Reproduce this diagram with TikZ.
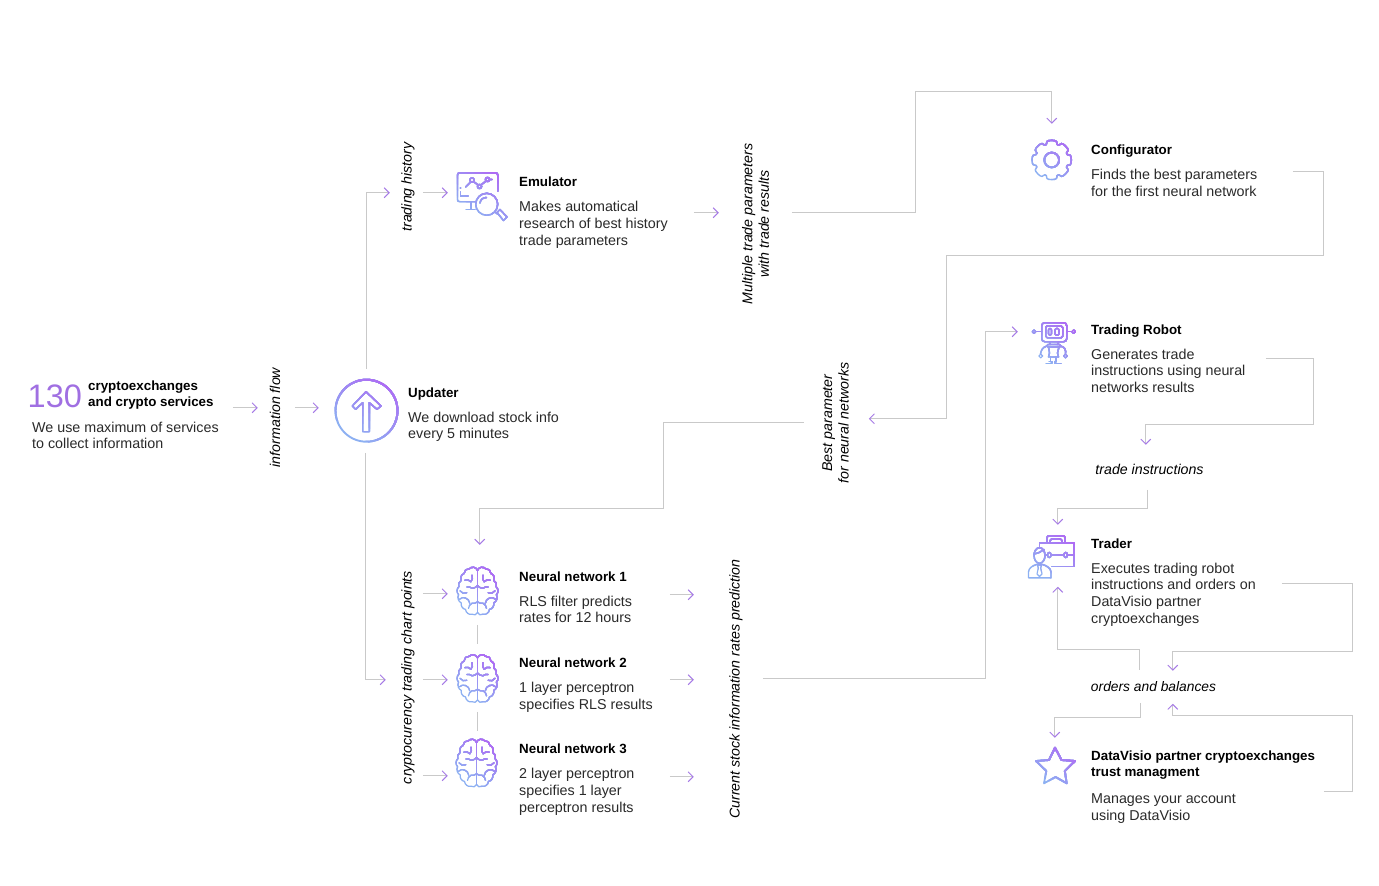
\documentclass[tikz,border=0pt]{standalone}
\usepackage{fontspec}
\setmainfont{Liberation Sans}
\usetikzlibrary{arrows.meta}
\definecolor{iconpurple}{HTML}{B06AF4}
\definecolor{iconblue}{HTML}{8DB0F2}
\definecolor{linegrey}{HTML}{C9C9C9}
\definecolor{tippurple}{HTML}{A67BE6}
\definecolor{bigpurple}{HTML}{A06FE2}
\definecolor{inktext}{HTML}{2A2A2A}
% stepped diagonal gradient: the icon is painted in layers, each clipped to a half-plane
\newcommand{\gradicon}[4]{%
  \foreach \layer in {0,...,10}{%
   \begin{scope}[line width=1.4pt,line join=round,line cap=round]
    \pgfmathsetmacro{\mixv}{\layer*10}%
    \pgfmathsetmacro{\edgev}{\layer==0 ? -300 : -#3+2*#3*\layer/10}%
    \colorlet{iconc}{iconpurple!\mixv!iconblue}%
    \clip[shift={(#1,#2)},rotate=55] (\edgev,-300) rectangle (300,300);
    #4
   \end{scope}}}
\newcommand{\brainicon}[2]{%
 \gradicon{#1}{#2}{21}{\begin{scope}[shift={(#1,#2)},xscale=.3,yscale=.325,line width=1.25pt]
  \draw[iconc] (0,-65)--(0,65);
  \foreach \s in {1,-1}{\begin{scope}[xscale=\s]
   \draw[iconc] (0,-65) to[bend right=60] (-27,-70) to[bend right=50] (-45,-55) to[bend right=50] (-55,-33) to[bend right=50] (-62,-15) to[bend right=50] (-63,10) to[bend right=50] (-54,35) to[bend right=50] (-40,55) to[bend right=50] (-18,70) to[bend right=50] (0,65);
   \draw[iconc] (-42,-35) to[bend left=30] (-22,-30) to[bend right=30] (-18,-50);
   \draw[iconc] (0,-18) to[bend left=20] (-18,-10) to[bend right=20] (-35,-14);
   \draw[iconc] (-58,-2) to[bend right=40] (-36,4);
   \draw[iconc] (-60,24) to[bend left=30] (-40,20) to[bend left=30] (-26,36);
   \draw[iconc] (-30,52) to[bend left=30] (-18,36) to[bend right=20] (0,32);
  \end{scope}}
 \end{scope}}}
\tikzset{
 conn/.style={draw=linegrey,line width=1.3pt,line join=miter,-{Straight Barb[length=5pt,width=10pt,color=tippurple,line width=.9pt]}},
 plainconn/.style={draw=linegrey,line width=1.3pt},
 title/.style={anchor=north west,inner sep=0pt,text=black,align=left,font=\fontsize{13.35}{16.4}\selectfont\bfseries,execute at begin node=\strut},
 body/.style={anchor=north west,yshift=-.4pt,inner sep=0pt,text=inktext,align=left,font=\fontsize{14.3}{16.6}\selectfont,execute at begin node=\strut},
 flowlabel/.style={inner sep=0pt,text=black,align=center,font=\fontsize{14.2}{16.6}\selectfont\itshape},
 iconbox/.style={inner sep=0pt,minimum size=#1}
}
\begin{document}
\begin{tikzpicture}[x=1pt,y=-1pt]
\fill[white] (0,0) rectangle (1379,886);
\useasboundingbox (0,0) rectangle (1379,886);
% icon anchors
\node[iconbox=62pt,circle] (updicon) at (366.5,411) {};
\node[iconbox=50pt] (emuicon) at (481,195) {};
\node[iconbox=40pt] (gearicon) at (1052,160) {};
\node[iconbox=40pt] (roboticon) at (1053,342) {};
\node[iconbox=46pt] (tradericon) at (1052,558) {};
\node[iconbox=42pt] (starricon) at (1055,766) {};
\node[iconbox=44pt] (brainA) at (477.5,591.5) {};
\node[iconbox=44pt] (brainB) at (477.5,679) {};
\node[iconbox=44pt] (brainC) at (476.5,763.5) {};
% texts
\node[anchor=base west,inner sep=0pt,text=bigpurple,font=\fontsize{32.5}{36}\selectfont] (big) at (27.5,407.3) {130};
\node[title] (srcT) at (88,380.5) {cryptoexchanges\\and crypto services};
\node[body] (srcB) at (32,421.4) {We use maximum of services\\to collect information};
\node[title] (updT) at (408,386) {Updater};
\node[body] (updB) at (408,411.4) {We download stock info\\every 5 minutes};
\node[title] (emuT) at (519,175) {Emulator};
\node[body] (emuB) at (519,200.9) {Makes automatical\\research of best history\\trade parameters};
\node[title] (cfgT) at (1091,142.8) {Configurator};
\node[body] (cfgB) at (1091,168.9) {Finds the best parameters\\for the first neural network};
\node[title] (robT) at (1091,323) {Trading Robot};
\node[body] (robB) at (1091,348.4) {Generates trade\\instructions using neural\\networks results};
\node[title] (trdT) at (1091,537) {Trader};
\node[body] (trdB) at (1091,562.4) {Executes trading robot\\instructions and orders on\\DataVisio partner\\cryptoexchanges};
\node[title] (nnAT) at (519,570) {Neural network 1};
\node[body] (nnAB) at (519,595.4) {RLS filter predicts\\rates for 12 hours};
\node[title] (nnBT) at (519,656) {Neural network 2};
\node[body] (nnBB) at (519,681.9) {1 layer perceptron\\specifies RLS results};
\node[title] (nnCT) at (519,742) {Neural network 3};
\node[body] (nnCB) at (519,767.9) {2 layer perceptron\\specifies 1 layer\\perceptron results};
\node[title] (dvT) at (1091,750.6) {DataVisio partner cryptoexchanges\\trust managment};
\node[body] (dvB) at (1091,793.4) {Manages your account\\using DataVisio};
\node[flowlabel,rotate=90] (lInfo) at (275,417.5) {information flow};
\node[flowlabel,rotate=90] (lHist) at (408,187) {trading history};
\node[flowlabel,rotate=90] (lPts) at (408,677.5) {cryptocurency trading chart points};
\node[flowlabel,rotate=90] (lMulti) at (755.5,224) {Multiple trade parameters\\with trade results};
\node[flowlabel,rotate=90] (lBest) at (835.5,423) {Best parameter\\for neural networks};
\node[flowlabel,rotate=90] (lPred) at (736,689) {Current stock information rates prediction};
\node[flowlabel] (lInstr) at (1149.5,469) {trade instructions};
\node[flowlabel,font=\fontsize{13.8}{16.6}\selectfont\itshape] (lOrders) at (1153.5,686.5) {orders and balances};
\begin{scope}[shift={(-.25,-.25)}]
% free ends of connectors
\foreach \n/\p in {a1/{233,408},a2/{258,408},b1/{295,408},b2/{319,408},c2/{390,193},d2/{386,680},
 e1/{423,193},e2/{448,193},f1/{694,213},f2/{719,213},g1/{792,213},g2/{1052,124},h1/{1293,172},h2/{869,419},
 i1/{804,423},i2/{480,545},j1/{763,679},j2/{1018,332},k1/{1266,359},k2/{1146,445},l1/{1148,490},l2/{1058,525},
 m1/{1282,584},m2/{1173,671},n1/{1140,670},n2/{1058,587},o1/{1141,703},o2/{1055,738},p1/{1324,792},p2/{1173,704},
 q1/{423,594},q2/{448,594},r1/{423,680},r2/{448,680},s1/{423,776},s2/{448,776},
 t1/{670,595},t2/{694,595},u1/{670,680},u2/{694,680},v1/{670,777},v2/{694,777},
 w1/{478,625},w2/{478,644},x1/{478,712},x2/{478,731},c1/{367,369},d1/{366,453}}
 {\coordinate (\n) at (\p);}
% connectors
\draw[conn] (a1)--(a2);
\draw[conn] (b1)--(b2);
\draw[conn] (c1) |- (c2);
\draw[conn] (d1) |- (d2);
\draw[conn] (e1)--(e2);
\draw[conn] (f1)--(f2);
\draw[conn] (g1)--(916,213)--(916,92)--(1052,92)--(g2);
\draw[conn] (h1)--(1324,172)--(1324,256)--(947,256)--(947,419)--(h2);
\draw[conn] (i1)--(664,423)--(664,509)--(480,509)--(i2);
\draw[conn] (j1)--(986,679)--(986,332)--(j2);
\draw[conn] (k1)--(1314,359)--(1314,425)--(1146,425)--(k2);
\draw[conn] (l1)--(1148,509)--(1058,509)--(l2);
\draw[conn] (m1)--(1353,584)--(1353,652)--(1173,652)--(m2);
\draw[conn] (n1)--(1140,650)--(1058,650)--(n2);
\draw[conn] (o1)--(1141,718)--(1055,718)--(o2);
\draw[conn] (p1)--(1353,792)--(1353,716)--(1173,716)--(p2);
\draw[conn] (q1)--(q2);
\draw[conn] (r1)--(r2);
\draw[conn] (s1)--(s2);
\draw[conn] (t1)--(t2);
\draw[conn] (u1)--(u2);
\draw[conn] (v1)--(v2);
\draw[plainconn] (w1)--(w2);
\draw[plainconn] (x1)--(x2);
\end{scope}
% updater icon
\gradicon{366.5}{411}{31}{
 \draw[iconc,line width=1.9pt] (366.5,410.7) circle (31);
 \draw[iconc] (366,391.7)--(352.3,406)--(355.7,409.3)--(362.7,402.7)--(362.7,431.7)--(369.3,431.7)--(369.3,402.7)--(377,409.3)--(381,406)--cycle;
}
% emulator icon
\gradicon{481}{195}{24}{
 \draw[iconc] (457.5,197)--(457.5,175.2) .. controls (457.5,173.5) and (458,172.8) .. (460,172.8)--(495,172.8) .. controls (497,172.8) and (497.8,173.5) .. (497.8,175.2)--(497.8,191);
 \draw[iconc] (457.5,197)--(457.5,199.5) .. controls (457.5,201) and (458,201.7) .. (460,201.7)--(476,201.7);
 \draw[iconc] (460.5,192)--(460.5,196)--(468,196);
 \fill[iconc] (460.5,188) circle (.9);
 \draw[iconc] (471,209)--(471,202) (466,209.5)--(475,209.5);
 \draw[iconc] (472,180) circle (2.1) (479.5,186.5) circle (2.1) (487.5,179.5) circle (2.1);
 \draw[iconc] (465.5,187)--(470.8,181.8) (473.5,181.5)--(478,185) (481,185)--(486,181) (489.5,179.5)--(492,179.5);
 \draw[iconc] (486.7,204.3) circle (11);
 \draw[iconc] (480,203) .. controls (480.5,199.5) and (483,197.5) .. (486.5,197.5);
 \draw[iconc] (495,212)--(497.5,214);
 \draw[iconc] (497,212.5)--(500,209.5)--(507,217)--(503.5,220.5)--cycle;
}
% gear icon
\gradicon{1052}{160}{20}{
 \foreach \a in {0,45,...,315}{
  \draw[iconc,shift={(1051.7,160)},rotate=\a] (-5.5,-15.5)--(-4.7,-18.5) .. controls (-4,-20) and (4,-20) .. (4.7,-18.5)--(5.5,-15.5) to[bend left=14] ({15.5*sin(45)-5.5*cos(45)},{-15.5*cos(45)-5.5*sin(45)});
 }
 \draw[iconc,line width=1.8pt] (1051.7,160) circle (7.4);
}
% robot icon
\gradicon{1053}{343}{21}{
 \draw[iconc,rounded corners=3pt] (1041.7,322.7) rectangle (1066.7,341.7);
 \draw[iconc,rounded corners=1.5pt] (1045.7,326) rectangle (1062.7,337.7);
 \draw[iconc,rounded corners=1.2pt,line width=1.1pt] (1048.5,328.5) rectangle (1051.5,335.2) (1055,328.5) rectangle (1059,335.2);
 \draw[iconc] (1041.7,331.7)--(1036,331.7) (1066.7,331.7)--(1072,331.7);
 \draw[iconc,line width=1.1pt] (1034,331.7) circle (1.8) (1073.7,331.7) circle (1.8);
 \draw[iconc] (1050,341.7)--(1050,344.5) (1058,341.7)--(1058,344.5);
 \draw[iconc,rounded corners=1pt] (1047,344.5) rectangle (1060.5,347);
 \draw[iconc] (1048.5,347)--(1049.5,353) -- (1048.5,357) -- (1058.5,357)--(1057.5,353)--(1059,347);
 \draw[iconc] (1047,346) .. controls (1043,347) and (1041,350) .. (1040.5,354);
 \draw[iconc] (1060.5,346) .. controls (1065,347) and (1066,350) .. (1065.5,354);
 \draw[iconc,line width=1.1pt] (1040.7,356) circle (1.9) (1065.5,356) circle (1.9);
 \draw[iconc] (1050.5,357)--(1050.5,362) (1056,357)--(1056,362);
 \draw[iconc] (1046,363.5)--(1052,363.5)--(1052,361.5)--(1049,361.5) (1055,361.5)--(1055,363.5)--(1061,363.5);
}
% trader icon
\gradicon{1052}{557}{23}{
 \draw[iconc] (1039.2,546)--(1039.2,542.8)--(1074,542.8)--(1074,566.7)--(1052,566.7);
 \draw[iconc,rounded corners=2pt] (1047,542.8)--(1047,535.8)--(1065,535.8)--(1065,542.8);
 \draw[iconc,rounded corners=1.5pt] (1050,542.8)--(1050,539)--(1062,539)--(1062,542.8);
 \draw[iconc] (1046,555)--(1047.5,555) (1051,555)--(1064,555) (1067.5,555)--(1074,555);
 \draw[iconc,line width=1.2pt] (1049.3,555) ellipse (1.8 and 2.6) (1065.7,555) ellipse (1.8 and 2.6);
 \draw[iconc] (1039.5,555.5) ellipse (5.5 and 7.8);
 \draw[iconc] (1034,554) .. controls (1038,553) and (1041.5,552) .. (1044,549.5);
 \draw[iconc] (1028.5,577.8) -- (1028.5,572) .. controls (1028.5,568) and (1033,565.5) .. (1036.5,564.5) -- (1042.5,564.5) .. controls (1046,565.5) and (1051,568) .. (1051,572) -- (1051,577.8) -- cycle;
 \draw[iconc,line width=1.1pt] (1037.5,565)--(1041.5,565)--(1040.7,568)--(1042,574)--(1039.5,576.5)--(1037,574)--(1038.3,568)--cycle;
}
% star icon
\gradicon{1055}{766}{20}{
 \draw[iconc,line width=1.8pt] (1055,747.7)--(1061.5,760)--(1075,761)--(1064.8,771)--(1066.7,783.3)--(1055.5,777)--(1044,783.3)--(1046.3,771)--(1036,761)--(1049,760)--cycle;
}
\brainicon{477.5}{591.5}
\brainicon{477.5}{679}
\brainicon{476.5}{763.5}
\end{tikzpicture}
\end{document}
